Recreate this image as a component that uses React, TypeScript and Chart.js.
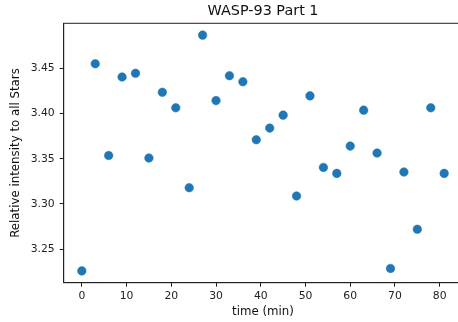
import React, { useEffect, useRef } from "react";
import { Chart, registerables } from "chart.js";

Chart.register(...registerables);

const TITLE = "WASP-93 Part 1";
const X_LABEL = "time (min)";
const Y_LABEL = "Relative intensity to all Stars";

const times = [0, 3, 6, 9, 12, 15, 18, 21, 24, 27, 30, 33, 36, 39, 42, 45, 48, 51, 54, 57, 60, 63, 66, 69, 72, 75, 78, 81];
const intensity = [
  3.226, 3.455, 3.3536, 3.4404, 3.4445, 3.3508, 3.4235, 3.4063, 3.318, 3.4867,
  3.4143, 3.4418, 3.4352, 3.371, 3.3839, 3.3982, 3.3088, 3.4195, 3.3404, 3.3338,
  3.364, 3.4037, 3.3563, 3.2287, 3.3353, 3.272, 3.4063, 3.3338,
];

const FONT = "'DejaVu Sans', sans-serif";

function pad(arr: number[]) {
  const lo = Math.min(...arr);
  const hi = Math.max(...arr);
  const m = (hi - lo) * 0.05;
  return [lo - m, hi + m];
}

export default function App() {
  const ref = useRef<HTMLCanvasElement | null>(null);

  useEffect(() => {
    if (!ref.current) return;
    const [xMin, xMax] = pad(times);
    const [yMin, yMax] = pad(intensity);

    const framePlugin = {
      id: "frame",
      afterDraw(chart: any) {
        const { ctx, chartArea } = chart;
        const { left, right, top, bottom } = chartArea;
        ctx.save();
        ctx.strokeStyle = "#222";
        ctx.lineWidth = 1;
        ctx.strokeRect(left, top, right - left, bottom - top);
        ctx.fillStyle = "#111";
        ctx.textAlign = "center";
        ctx.textBaseline = "middle";
        ctx.font = `14.4px ${FONT}`;
        ctx.fillText(TITLE, (left + right) / 2, 11);
        ctx.font = `11.8px ${FONT}`;
        ctx.fillText(X_LABEL, (left + right) / 2, 311.5);
        ctx.translate(16, (top + bottom) / 2);
        ctx.rotate(-Math.PI / 2);
        ctx.fillText(Y_LABEL, 0, 0);
        ctx.restore();
      },
    };

    const chart = new Chart(ref.current, {
      type: "scatter",
      data: {
        datasets: [
          {
            data: times.map((t, i) => ({ x: t, y: intensity[i] })),
            backgroundColor: "#1f77b4",
            borderColor: "#1f77b4",
            borderWidth: 0.5,
            pointRadius: 4.3,
          },
        ],
      },
      options: {
        responsive: false,
        animation: false,
        layout: { padding: { top: 23.3, left: 0, right: 7.7, bottom: 0 } },
        plugins: { legend: { display: false }, tooltip: { enabled: false }, title: { display: false } },
        scales: {
          x: {
            type: "linear",
            min: xMin,
            max: xMax,
            afterFit: (s: any) => {
              s.height = 39.3;
            },
            ticks: {
              stepSize: 10,
              includeBounds: false,
              padding: 3,
              color: "#222",
              font: { family: FONT, size: 10.8 },
              maxRotation: 0,
            },
            grid: { drawOnChartArea: false, drawTicks: true, tickLength: 4, color: "#222" },
            border: { display: true, color: "#222", width: 1 },
          },
          y: {
            type: "linear",
            min: yMin,
            max: yMax,
            afterFit: (s: any) => {
              s.width = 63.7;
            },
            ticks: {
              stepSize: 0.05,
              includeBounds: false,
              padding: 5,
              color: "#222",
              font: { family: FONT, size: 10.8 },
              callback: (v: any) => Number(v).toFixed(2),
            },
            grid: { drawOnChartArea: false, drawTicks: true, tickLength: 4, color: "#222" },
            border: { display: true, color: "#222", width: 1 },
          },
        },
      },
      plugins: [framePlugin],
    });
    return () => chart.destroy();
  }, []);

  return (
    <div style={{ position: "fixed", left: 0, top: 0, width: 458, height: 322, overflow: "hidden", background: "#fff" }}>
      <canvas ref={ref} width={470} height={322} style={{ display: "block" }} />
    </div>
  );
}
